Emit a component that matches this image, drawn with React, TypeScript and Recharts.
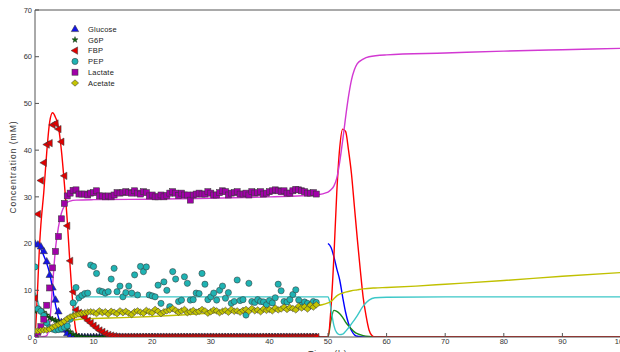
import React from "react";
import { ComposedChart, Line, Scatter, XAxis, YAxis, Legend } from "recharts";

const FONT = '"Liberation Sans", Arial, sans-serif';

// measurement times (h), every half hour up to 48 h
const tMeas = [
  0, 0.5, 1, 1.5, 2, 2.5, 3, 3.5, 4, 4.5,
  5, 5.5, 6, 6.5, 7, 7.5, 8, 8.5, 9, 9.5,
  10, 10.5, 11, 11.5, 12, 12.5, 13, 13.5, 14, 14.5,
  15, 15.5, 16, 16.5, 17, 17.5, 18, 18.5, 19, 19.5,
  20, 20.5, 21, 21.5, 22, 22.5, 23, 23.5, 24, 24.5,
  25, 25.5, 26, 26.5, 27, 27.5, 28, 28.5, 29, 29.5,
  30, 30.5, 31, 31.5, 32, 32.5, 33, 33.5, 34, 34.5,
  35, 35.5, 36, 36.5, 37, 37.5, 38, 38.5, 39, 39.5,
  40, 40.5, 41, 41.5, 42, 42.5, 43, 43.5, 44, 44.5,
  45, 45.5, 46, 46.5, 47, 47.5, 48,
];

const glucoseMeas = [
  20.0, 19.8, 19.4, 18.4, 16.2, 13.3, 10.6, 8.0, 5.5, 3.2,
  1.6, 0.8, 0.3, 0.1, 0, 0, 0, 0, 0, 0,
  0, 0, 0, 0, 0, 0, 0, 0, 0, 0,
  0, 0, 0, 0, 0, 0, 0, 0, 0, 0,
  0, 0, 0, 0, 0, 0, 0, 0, 0, 0,
  0, 0, 0, 0, 0, 0, 0, 0, 0, 0,
  0, 0, 0, 0, 0, 0, 0, 0, 0, 0,
  0, 0, 0, 0, 0, 0, 0, 0, 0, 0,
  0, 0, 0, 0, 0, 0, 0, 0, 0, 0,
  0, 0, 0, 0, 0, 0, 0,
];

const g6pMeas = [
  5.5, 6.1, 5.8, 5.3, 4.7, 4.1, 3.8, 3.6, 3.3, 2.9,
  2.3, 1.7, 1.1, 0.6, 0.3, 0.15, 0.05, 0, 0, 0,
  0, 0, 0, 0, 0, 0, 0, 0, 0, 0,
  0, 0, 0, 0, 0, 0, 0, 0, 0, 0,
  0, 0, 0, 0, 0, 0, 0, 0, 0, 0,
  0, 0, 0, 0, 0, 0, 0, 0, 0, 0,
  0, 0, 0, 0, 0, 0, 0, 0, 0, 0,
  0, 0, 0, 0, 0, 0, 0, 0, 0, 0,
  0, 0, 0, 0, 0, 0, 0, 0, 0, 0,
  0, 0, 0, 0, 0, 0, 0,
];

const fbpMeas = [
  8.3, 26.3, 33.5, 37.3, 41.2, 41.5, 45.4, 45.7, 44.5, 41.8,
  34.5, 23.8, 16.3, 9.7, 5.8, 5.2, 4.6, 4.2, 3.5, 3.0,
  2.4, 1.9, 1.4, 1.1, 0.7, 0.45, 0.3, 0.15, 0.05, 0,
  0, 0, 0, 0, 0, 0, 0, 0, 0, 0,
  0, 0, 0, 0, 0, 0, 0, 0, 0, 0,
  0, 0, 0, 0, 0, 0, 0, 0, 0, 0,
  0, 0, 0, 0, 0, 0, 0, 0, 0, 0,
  0, 0, 0, 0, 0, 0, 0, 0, 0, 0,
  0, 0, 0, 0, 0, 0, 0, 0, 0, 0,
  0, 0, 0, 0, 0, 0, 0,
];

const pepMeas = [
  15.0, 6.0, 5.5, 4.6, 3.0, 2.0, 1.7, 1.5, 1.6, 1.8,
  2.1, 2.4, 3.8, 7.3, 10.6, 8.4, 8.9, 9.3, 9.4, 15.4,
  15.1, 13.6, 9.9, 9.7, 9.4, 9.7, 12.4, 14.7, 9.7, 10.9,
  8.6, 9.5, 10.9, 9.4, 13.3, 9.0, 15.1, 14.0, 15.0, 9.0,
  8.8, 8.6, 11.1, 7.2, 11.8, 10.0, 6.5, 14.0, 12.4, 7.6,
  7.9, 12.9, 11.5, 7.9, 8.0, 9.4, 9.3, 13.6, 11.3, 8.0,
  8.6, 9.4, 7.9, 10.0, 10.9, 8.3, 9.5, 7.2, 7.6, 12.2,
  7.8, 8.0, 4.7, 11.5, 7.6, 7.4, 8.0, 7.6, 7.5, 6.9,
  7.8, 7.3, 8.4, 11.3, 9.9, 7.6, 7.5, 8.0, 9.1, 10.1,
  7.9, 6.8, 7.5, 7.2, 6.8, 7.6, 7.4,
];

const lactateMeas = [
  0.2, 1.0, 2.2, 3.8, 6.8, 10.5, 14.8, 18.3, 21.5, 25.3,
  28.6, 30.2, 30.8, 31.4, 31.5, 30.6, 30.6, 30.6, 30.4, 30.8,
  30.9, 31.3, 30.2, 30.2, 30.0, 30.2, 30.0, 30.4, 30.9, 30.8,
  30.9, 31.1, 30.9, 30.8, 31.3, 30.8, 30.6, 31.1, 30.9, 30.2,
  30.4, 30.0, 30.0, 30.4, 30.0, 30.3, 30.8, 31.1, 30.8, 30.3,
  30.8, 30.4, 30.4, 29.3, 30.4, 30.6, 30.8, 30.6, 30.6, 31.1,
  30.8, 30.4, 30.4, 30.9, 31.3, 31.1, 30.4, 30.8, 30.9, 31.1,
  30.6, 30.6, 30.8, 30.4, 31.1, 30.8, 30.9, 31.1, 30.6, 30.8,
  31.1, 31.3, 31.5, 31.3, 31.1, 31.3, 30.8, 30.8, 31.3, 31.6,
  31.5, 31.3, 31.1, 30.8, 30.8, 30.9, 30.6,
];

const acetateMeas = [
  1.3, 1.3, 1.4, 1.5, 1.5, 1.7, 2.1, 2.4, 2.7, 3.0,
  3.4, 3.9, 4.3, 4.5, 4.7, 4.9, 5.1, 5.2, 5.3, 5.4,
  5.3, 5.0, 5.6, 5.2, 5.4, 4.9, 5.5, 5.3, 5.0, 5.6,
  5.2, 5.5, 5.1, 4.8, 5.4, 5.6, 5.3, 5.1, 5.7, 5.4,
  5.2, 5.9, 5.5, 5.0, 5.4, 5.6, 5.8, 6.1, 5.7, 5.3,
  5.6, 5.9, 5.2, 5.4, 5.7, 5.3, 5.5, 5.9, 5.6, 5.1,
  5.4, 5.8, 5.6, 5.2, 5.5, 5.7, 5.3, 5.9, 5.5, 5.6,
  5.3, 5.7, 5.9, 5.5, 6.1, 5.6, 5.8, 5.4, 6.0, 5.7,
  5.9, 5.6, 6.2, 5.8, 6.0, 6.4, 5.9, 6.3, 6.1, 5.8,
  6.6, 6.2, 6.5, 6.0, 6.8, 6.4, 6.9,
];

// model curves (null = break before the glucose pulse at 50 h)
const glucoseSimT = [0, 0.5, 1, 1.5, 2, 2.5, 3, 3.5, 4, 4.5, 5, 5.5, 6, 7, 8, 49.9, 49.95, 50, 50.5, 51, 51.5, 52, 52.5, 53, 53.5, 54, 54.5, 55, 56, 100];
const glucoseSim = [20, 19.6, 18.8, 17.4, 15.8, 13.6, 10.4, 6.9, 4.2, 2.4, 1.2, 0.5, 0.2, 0.03, 0, 0, null, 20, 19.2, 17.2, 14.6, 12.2, 8.6, 5.3, 2.9, 1.4, 0.5, 0.15, 0, 0];

const g6pSimT = [0, 0.5, 1, 1.5, 2, 3, 4, 5, 6, 7, 8, 9, 50, 50.5, 51, 51.5, 52, 52.5, 53, 53.5, 54, 54.5, 55, 56, 57, 58, 100];
const g6pSim = [5.2, 5.6, 5.5, 5.1, 4.6, 3.7, 2.8, 1.8, 0.8, 0.25, 0.05, 0, 0, 3.5, 5.7, 5.5, 5.0, 4.2, 3.2, 2.4, 1.7, 1.1, 0.7, 0.3, 0.1, 0, 0];

const fbpSimT = [0, 0.25, 0.5, 0.75, 1, 1.5, 2, 2.5, 3, 3.5, 4, 4.5, 5, 5.5, 6, 6.5, 7, 7.5, 8, 50, 50.5, 51, 51.5, 52, 52.5, 53, 53.5, 54, 54.5, 55, 55.5, 56, 56.5, 57, 57.5, 58, 100];
const fbpSim = [0, 5, 12, 19, 24, 31, 39.5, 46, 48, 47, 45, 40, 33, 25, 15, 6.5, 1.2, 0.1, 0, 0, 6, 17, 31, 40.5, 44.5, 44, 40, 35, 28, 21, 14.5, 8.5, 4.5, 1.5, 0.3, 0, 0];

const pepSimT = [0, 0.5, 1, 1.5, 2, 2.5, 3, 3.5, 4, 4.5, 5, 5.5, 6, 6.5, 7, 7.5, 8, 8.5, 50, 50.3, 50.7, 51, 51.5, 52, 52.5, 53, 54, 55, 56, 57, 58, 60, 70, 100];
const pepSim = [9.5, 7.5, 5.5, 4.0, 3.0, 2.2, 1.6, 1.2, 1.1, 1.2, 1.5, 2.2, 3.5, 5.4, 7.0, 8.0, 8.5, 8.6, 8.6, 7.5, 4.5, 2.5, 0.9, 0.5, 0.6, 1.2, 2.8, 4.6, 6.6, 7.9, 8.4, 8.5, 8.6, 8.6];

const lactateSimT = [0, 1, 1.5, 2, 2.5, 3, 3.5, 4, 4.5, 5, 5.5, 6, 7, 10, 20, 30, 40, 48, 50, 50.5, 51, 51.5, 52, 52.5, 53, 53.5, 54, 54.5, 55, 56, 57, 60, 70, 80, 90, 100];
const lactateSim = [0, 0, 0.1, 0.3, 3, 11, 19, 23.5, 26.5, 28, 28.8, 29.1, 29.3, 29.4, 29.5, 29.7, 30.0, 30.4, 31.0, 31.5, 32.3, 34, 37.5, 42, 47, 51.5, 55, 57.2, 58.5, 59.5, 60.0, 60.4, 60.8, 61.2, 61.5, 61.8];

const acetateSimT = [0, 1, 2, 3, 4, 5, 6, 7, 8, 10, 15, 20, 25, 30, 35, 40, 45, 48, 49, 50, 50.5, 51, 51.5, 52, 52.5, 53, 54, 55, 56, 58, 60, 65, 70, 80, 90, 100];
const acetateSim = [1.0, 1.3, 1.8, 2.3, 2.8, 3.2, 3.5, 3.7, 3.85, 3.95, 4.15, 4.4, 4.7, 5.1, 5.6, 6.0, 6.4, 6.7, 6.9, 7.3, 7.6, 8.2, 8.8, 9.2, 9.4, 9.6, 9.9, 10.1, 10.3, 10.5, 10.6, 10.9, 11.3, 12.1, 13.0, 13.8];

const speciesNames = ["Glucose", "G6P", "FBP", "PEP", "Lactate", "Acetate"];
const xTicks = [0, 10, 20, 30, 40, 50, 60, 70, 80, 90, 100];
const yTicks = [0, 10, 20, 30, 40, 50, 60, 70];

const MARKERS = ["triUp", "star", "triLeft", "circle", "square", "diamond"];
const MARKER_FILL = ["#1414e6", "#0b6a0b", "#e00000", "#1fb3b3", "#a000a8", "#c4c400"];
const LINE_COLOR = ["#0000ff", "#1a8a1a", "#ff0000", "#3cc8c8", "#d238d2", "#c0c000"];
const EDGE = "#383838";
const AXIS = "#555";

const toPoints = (ts: number[], vs: (number | null)[]) =>
  ts.map((t, i) => ({ t, v: vs[i] }));

const measured = [glucoseMeas, g6pMeas, fbpMeas, pepMeas, lactateMeas, acetateMeas].map((vs) =>
  toPoints(tMeas, vs)
);
const simulated = [
  toPoints(glucoseSimT, glucoseSim),
  toPoints(g6pSimT, g6pSim),
  toPoints(fbpSimT, fbpSim),
  toPoints(pepSimT, pepSim),
  toPoints(lactateSimT, lactateSim),
  toPoints(acetateSimT, acetateSim),
];

function Marker({ kind, cx, cy, fill }: { kind: string; cx: number; cy: number; fill: string }) {
  const common = { fill, stroke: EDGE, strokeWidth: 0.55 };
  switch (kind) {
    case "triUp":
      return <polygon points={`${cx},${cy - 3.9} ${cx + 3.7},${cy + 2.6} ${cx - 3.7},${cy + 2.6}`} {...common} />;
    case "triLeft":
      return <polygon points={`${cx - 3.9},${cy} ${cx + 2.6},${cy - 3.7} ${cx + 2.6},${cy + 3.7}`} {...common} />;
    case "square":
      return <rect x={cx - 3} y={cy - 3} width={6} height={6} {...common} />;
    case "circle":
      return <circle cx={cx} cy={cy} r={3.1} {...common} />;
    case "diamond":
      return <polygon points={`${cx},${cy - 3.2} ${cx + 3.6},${cy} ${cx},${cy + 3.2} ${cx - 3.6},${cy}`} {...common} />;
    default: {
      const pts: string[] = [];
      for (let k = 0; k < 10; k++) {
        const r = k % 2 ? 1.3 : 3.2;
        const a = ((-90 + k * 36) * Math.PI) / 180;
        pts.push(`${cx + r * Math.cos(a)},${cy + r * Math.sin(a)}`);
      }
      return <polygon points={pts.join(" ")} fill={fill} stroke="#111" strokeWidth={0.4} />;
    }
  }
}

const markerShape = (i: number) => (p: any) =>
  <Marker kind={MARKERS[i]} cx={p.cx} cy={p.cy} fill={MARKER_FILL[i]} />;

function LegendBox() {
  return (
    <svg width={90} height={70} style={{ display: "block" }}>
      {speciesNames.map((name, i) => (
        <g key={name}>
          <Marker kind={MARKERS[i]} cx={9} cy={7 + i * 10.8} fill={MARKER_FILL[i]} />
          <text x={22} y={7 + i * 10.8 + 2.8} fontSize={7.5} fill="#222" fontFamily={FONT} letterSpacing={0.2}>
            {name}
          </text>
        </g>
      ))}
    </svg>
  );
}

function YLabel() {
  return (
    <text x={15.5} y={167} transform="rotate(-90 15.5 167)" textAnchor="middle" fontSize={8.5}
      letterSpacing={1} fill="#333" fontFamily={FONT}>
      Concentration (mM)
    </text>
  );
}

function XLabel() {
  return (
    <text x={328} y={357} textAnchor="middle" fontSize={8.5} letterSpacing={1} fill="#333" fontFamily={FONT}>
      Time (h)
    </text>
  );
}

const tickStyle = { fontSize: 7.5, fill: "#333", fontFamily: FONT };

export default function App() {
  return (
    <div style={{ position: "absolute", left: 0, top: 0, width: 620, height: 352, overflow: "hidden", background: "#fff" }}>
      <ComposedChart width={640} height={352} margin={{ top: 9, right: 18, bottom: 0, left: 0 }}>
        <XAxis
          dataKey="t"
          type="number"
          domain={[0, 100]}
          ticks={xTicks}
          allowDataOverflow
          height={15}
          tickSize={-4}
          tickMargin={6}
          stroke={AXIS}
          tick={tickStyle}
          label={<XLabel />}
        />
        <XAxis
          xAxisId="top"
          orientation="top"
          type="number"
          domain={[0, 100]}
          ticks={xTicks}
          allowDataOverflow
          height={1}
          tickSize={-4}
          tick={false}
          stroke={AXIS}
        />
        <YAxis
          type="number"
          domain={[0, 70]}
          ticks={yTicks}
          allowDataOverflow
          width={35}
          tickSize={-4}
          tickMargin={7}
          stroke={AXIS}
          tick={tickStyle}
          label={<YLabel />}
        />
        <YAxis
          yAxisId="right"
          orientation="right"
          type="number"
          domain={[0, 70]}
          ticks={yTicks}
          allowDataOverflow
          width={1}
          tickSize={-4}
          tick={false}
          stroke={AXIS}
        />
        <Legend
          content={() => <LegendBox />}
          layout="horizontal"
          verticalAlign="middle"
          align="center"
          wrapperStyle={{ left: 66, top: 22, width: 90, height: 70 }}
        />
        {measured.map((pts, i) => (
          <Scatter
            key={`m-${speciesNames[i]}`}
            name={speciesNames[i]}
            data={pts}
            dataKey="v"
            shape={markerShape(i)}
            isAnimationActive={false}
          />
        ))}
        {simulated.map((pts, i) => (
          <Line
            key={`s-${speciesNames[i]}`}
            data={pts}
            dataKey="v"
            type="monotone"
            stroke={LINE_COLOR[i]}
            strokeWidth={1.4}
            dot={false}
            activeDot={false}
            legendType="none"
            isAnimationActive={false}
          />
        ))}
      </ComposedChart>
    </div>
  );
}
